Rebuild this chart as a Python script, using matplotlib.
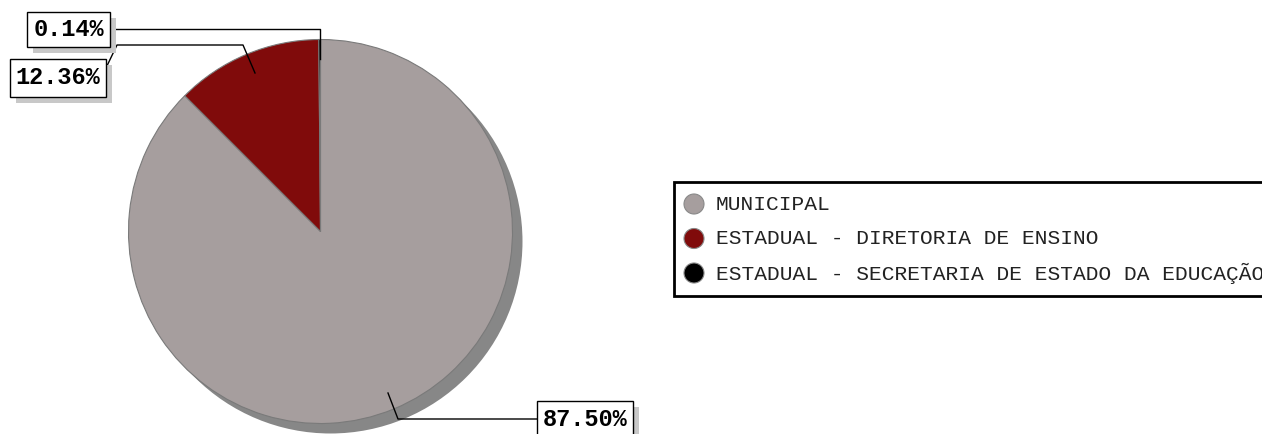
import matplotlib
matplotlib.use("Agg")
import matplotlib.pyplot as plt
from matplotlib.patches import Rectangle, Circle

categories = ["MUNICIPAL", "ESTADUAL - DIRETORIA DE ENSINO", "ESTADUAL - SECRETARIA DE ESTADO DA EDUCAÇÃO"]
values = [87.50, 12.36, 0.14]
labels = ["87.50%", "12.36%", "0.14%"]
colors = ["#A69E9E", "#800B0B", "#000000"]

W, H = 1262, 434
fig = plt.figure(figsize=(W / 100, H / 100), dpi=100)
ax = fig.add_axes([0, 0, 1, 1])
ax.set_xlim(0, W)
ax.set_ylim(0, H)
ax.axis("off")

def Y(py):
    return H - py

cx, cy, r = 320.5, 231.5, 192
# shadow
ax.add_patch(Circle((cx + 10, Y(cy + 10)), r, facecolor="#878787", edgecolor="none", zorder=1))
wedges, _ = ax.pie(values, colors=colors, startangle=90, counterclock=False,
                   center=(cx, Y(cy)), radius=r, frame=True,
                   wedgeprops=dict(edgecolor="#7a7a7a", linewidth=0.8, zorder=2))
for w in wedges:
    w.set_zorder(2)
ax.set_xlim(0, W)
ax.set_ylim(0, H)
ax.set_aspect("equal")
ax.axis("off")

font_lbl = dict(family="Liberation Mono", weight="bold", fontsize=17)

def label_box(x0, y0, x1, y1, text):
    ax.add_patch(Rectangle((x0 + 6, Y(y1 + 6)), x1 - x0, y1 - y0, facecolor="#c8c8c8", edgecolor="none", zorder=4))
    ax.add_patch(Rectangle((x0, Y(y1)), x1 - x0, y1 - y0, facecolor="white", edgecolor="black", linewidth=1.0, zorder=5))
    ax.text((x0 + x1) / 2, Y((y0 + y1) / 2), text, ha="center", va="center", zorder=6, **font_lbl)

lw = 1.0
# 0.14%
ax.plot([110, 320, 320], [Y(29), Y(29), Y(59)], color="black", lw=lw, zorder=3)
label_box(27, 12, 110, 47, labels[2])
# 12.36%
ax.plot([105, 117, 243, 255], [Y(70), Y(45), Y(45), Y(73)], color="black", lw=lw, zorder=3)
label_box(10, 59, 106, 97, labels[1])
# 87.50%
ax.plot([388, 398, 537], [Y(393), Y(419), Y(419)], color="black", lw=lw, zorder=3)
label_box(537, 401, 633, 438, labels[0])

# legend
ax.add_patch(Rectangle((674, Y(296)), 700, 114, facecolor="white", edgecolor="black", linewidth=2.0, zorder=3, clip_on=True))
for i, (cat, col) in enumerate(zip(categories, colors)):
    yy = 204 + i * 34.5
    ax.add_patch(Circle((694, Y(yy)), 10, facecolor=col, edgecolor="#888888", linewidth=0.8, zorder=4))
    ax.text(716, Y(yy), cat, ha="left", va="center", family="Liberation Mono", fontsize=15.3,
            color="#222222", zorder=5)

fig.savefig("out.png", dpi=100)
